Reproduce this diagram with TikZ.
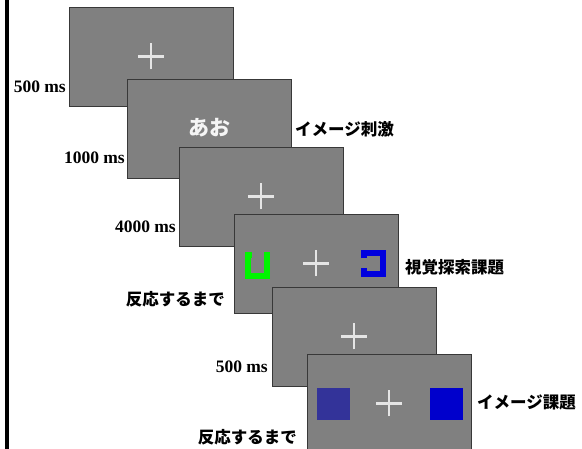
\documentclass[tikz,border=0pt]{standalone}
\usepackage{fontspec}
\setmainfont{Liberation Serif}
\newfontfamily\jpfont{Noto Sans CJK JP}
\begin{document}
\begin{tikzpicture}[x=1pt,y=-1pt,
  panel/.style={draw=black!78, line width=0.9pt, fill=black!50, minimum width=164pt, minimum height=99pt, inner sep=0pt, outer sep=0pt},
  crossline/.style={draw=black!10, line width=2.2pt},
  mslabel/.style={font=\fontsize{17.5}{19}\selectfont\bfseries, anchor=east, inner sep=0pt},
  jplabel/.style={font=\jpfont\bfseries\fontsize{16.5}{18}\selectfont, inner sep=0pt},
  kana/.style={font=\jpfont\bfseries\fontsize{21}{23}\selectfont, text=black!4, inner sep=0pt},
  bracketline/.style={line width=6pt, line cap=butt, line join=miter}
]
\useasboundingbox (0,0) rectangle (582,449);
\clip (0,0) rectangle (582,449);
\fill[white] (0,0) rectangle (582,449);
% left bar
\fill[black] (5,0) rectangle (8.5,449);

\newcommand{\fixcross}[1]{%
  \draw[crossline] ([xshift=-13pt]#1.center) -- ([xshift=13pt]#1.center);
  \draw[crossline] ([yshift=-13pt]#1.center) -- ([yshift=13pt]#1.center);}

% panels
\node[panel] (p1) at (151,56.5) {};
\fixcross{p1}
\node[panel] (p2) at (209,128.5) {};
\node[kana] (ao) at (209,128) {あお};
\node[panel] (p3) at (261,196.5) {};
\fixcross{p3}
\node[panel] (p4) at (316,263.5) {};
\fixcross{p4}
\draw[bracketline, draw=green!90!black!40!green] (251.5,255) -- (248,255) -- (248,276) -- (267,276) -- (267,255) -- (263.5,255);
\draw[bracketline, draw=blue!87!black] (364,258.5) -- (364,253) -- (383,253) -- (383,274) -- (364,274) -- (364,268.5);
\node[panel] (p5) at (354,336.5) {};
\fixcross{p5}
\node[panel] (p6) at (389,403.5) {};
\fixcross{p6}
\fill[fill={rgb,255:red,51;green,51;blue,153}] (317,388) rectangle (350,420);
\fill[fill={rgb,255:red,0;green,0;blue,204}] (430,388) rectangle (463,420);

% left labels
\node[mslabel] (l1) at (66,87) {500 ms};
\node[mslabel] (l2) at (125,158) {1000 ms};
\node[mslabel] (l3) at (176,227) {4000 ms};
\node[jplabel, anchor=east] (l4) at (225,299) {反応するまで};
\node[mslabel] (l5) at (268,367) {500 ms};
\node[jplabel, anchor=east] (l6) at (297,437) {反応するまで};

% right labels
\node[jplabel, anchor=west] (r1) at (295,129) {イメージ刺激};
\node[jplabel, anchor=west] (r2) at (405,267) {視覚探索課題};
\node[jplabel, anchor=west] (r3) at (477,403) {イメージ課題};
\end{tikzpicture}
\end{document}
